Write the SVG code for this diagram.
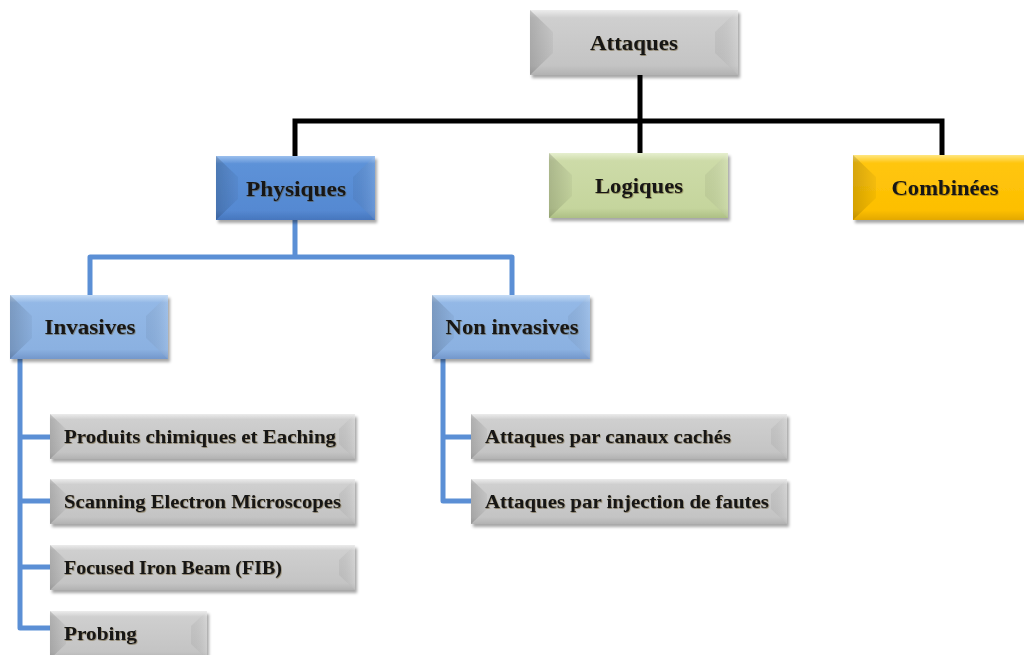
<svg xmlns="http://www.w3.org/2000/svg" width="1024" height="655" viewBox="0 0 1024 655">
  <defs>
    <filter id="shadow" x="-10%" y="-20%" width="130%" height="150%">
      <feDropShadow dx="2" dy="3" stdDeviation="1.6" flood-color="#000" flood-opacity="0.35"/>
    </filter>
    <filter id="glow" x="-5%" y="-20%" width="110%" height="150%">
      <feDropShadow dx="0.6" dy="0.8" stdDeviation="0.6" flood-color="#5a4a20" flood-opacity="0.6"/>
    </filter>
    <!-- bevel side shading -->
    <linearGradient id="shadeL" x1="0" y1="0" x2="1" y2="0">
      <stop offset="0" stop-color="#000" stop-opacity="0.16"/>
      <stop offset="1" stop-color="#000" stop-opacity="0.04"/>
    </linearGradient>
    <linearGradient id="shadeR" x1="0" y1="0" x2="1" y2="0">
      <stop offset="0" stop-color="#000" stop-opacity="0.05"/>
      <stop offset="1" stop-color="#fff" stop-opacity="0.12"/>
    </linearGradient>
    <!-- face gradients -->
    <linearGradient id="gGray" x1="0" y1="0" x2="0" y2="1">
      <stop offset="0" stop-color="#ececec"/>
      <stop offset="0.12" stop-color="#cfcfcf"/>
      <stop offset="0.85" stop-color="#c4c4c4"/>
      <stop offset="1" stop-color="#b2b2b2"/>
    </linearGradient>
    <linearGradient id="gBlue" x1="0" y1="0" x2="0" y2="1">
      <stop offset="0" stop-color="#9cc0ee"/>
      <stop offset="0.12" stop-color="#5d92d8"/>
      <stop offset="0.85" stop-color="#5589d2"/>
      <stop offset="1" stop-color="#4776bd"/>
    </linearGradient>
    <linearGradient id="gLBlue" x1="0" y1="0" x2="0" y2="1">
      <stop offset="0" stop-color="#c6dcf5"/>
      <stop offset="0.12" stop-color="#93b8e6"/>
      <stop offset="0.85" stop-color="#8bb1e1"/>
      <stop offset="1" stop-color="#7397cb"/>
    </linearGradient>
    <linearGradient id="gGreen" x1="0" y1="0" x2="0" y2="1">
      <stop offset="0" stop-color="#e6efcf"/>
      <stop offset="0.12" stop-color="#cddba8"/>
      <stop offset="0.85" stop-color="#c5d59d"/>
      <stop offset="1" stop-color="#adbf85"/>
    </linearGradient>
    <linearGradient id="gGold" x1="0" y1="0" x2="0" y2="1">
      <stop offset="0" stop-color="#ffe680"/>
      <stop offset="0.12" stop-color="#ffc60f"/>
      <stop offset="0.85" stop-color="#fdbf00"/>
      <stop offset="1" stop-color="#e3a800"/>
    </linearGradient>
  </defs>
  <style>
    .lbl { font-family: "Liberation Serif", "DejaVu Serif", serif; font-weight: bold; fill: #141414; filter: url(#glow); }
    .hd { font-size: 21px; text-anchor: middle; }
    .lf { font-size: 19.5px; }
    .sideL { fill: url(#shadeL); }
    .sideR { fill: url(#shadeR); }
    .black { fill: none; stroke: #000; stroke-width: 5; }
    .blue { fill: none; stroke: #5b8fd5; stroke-width: 5; stroke-linejoin: round; }
  </style>

  <rect width="1024" height="655" fill="#fff"/>

  <!-- connectors -->
  <g id="connectors">
    <path class="black" d="M640 75 V121 M295 157 V121 H942 V156 M640 121 V153"/>
    <path class="blue" d="M295 220 V257 M90 296 V257 H512 V296"/>
    <path class="blue" d="M20 359 V628 H51 M20 437 H51 M20 501 H51 M20 567 H51"/>
    <path class="blue" d="M443 359 V501 H472 M443 437 H472"/>
  </g>

  <!-- Attaques -->
  <g id="n-attaques" filter="url(#shadow)">
    <rect x="530" y="10" width="208" height="65" fill="url(#gGray)"/>
    <polygon class="sideL" points="530,10 553,32 553,53 530,75"/>
    <polygon class="sideR" points="738,10 715,32 715,53 738,75"/>
    <text class="lbl hd" x="634" y="50" textLength="88" lengthAdjust="spacingAndGlyphs">Attaques</text>
  </g>

  <!-- Physiques -->
  <g id="n-physiques" filter="url(#shadow)">
    <rect x="216" y="156" width="159" height="64" fill="url(#gBlue)"/>
    <polygon class="sideL" points="216,156 238,177 238,199 216,220"/>
    <polygon class="sideR" points="375,156 353,177 353,199 375,220"/>
    <text class="lbl hd" x="296" y="196" textLength="100" lengthAdjust="spacingAndGlyphs">Physiques</text>
  </g>

  <!-- Logiques -->
  <g id="n-logiques" filter="url(#shadow)">
    <rect x="549" y="153" width="179" height="65" fill="url(#gGreen)"/>
    <polygon class="sideL" points="549,153 572,175 572,196 549,218"/>
    <polygon class="sideR" points="728,153 705,175 705,196 728,218"/>
    <text class="lbl hd" x="639" y="193" textLength="88" lengthAdjust="spacingAndGlyphs">Logiques</text>
  </g>

  <!-- Combinées -->
  <g id="n-combinees" filter="url(#shadow)">
    <rect x="853" y="155" width="180" height="65" fill="url(#gGold)"/>
    <polygon class="sideL" points="853,155 876,177 876,198 853,220"/>
    <text class="lbl hd" x="945" y="195" textLength="107" lengthAdjust="spacingAndGlyphs">Combinées</text>
  </g>

  <!-- Invasives -->
  <g id="n-invasives" filter="url(#shadow)">
    <rect x="10" y="295" width="158" height="64" fill="url(#gLBlue)"/>
    <polygon class="sideL" points="10,295 32,316 32,338 10,359"/>
    <polygon class="sideR" points="168,295 146,316 146,338 168,359"/>
    <text class="lbl hd" x="90" y="334" textLength="91" lengthAdjust="spacingAndGlyphs">Invasives</text>
  </g>

  <!-- Non invasives -->
  <g id="n-noninvasives" filter="url(#shadow)">
    <rect x="432" y="295" width="158" height="64" fill="url(#gLBlue)"/>
    <polygon class="sideL" points="432,295 454,316 454,338 432,359"/>
    <polygon class="sideR" points="590,295 568,316 568,338 590,359"/>
    <text class="lbl hd" x="512" y="334" textLength="133" lengthAdjust="spacingAndGlyphs">Non invasives</text>
  </g>

  <!-- leaves: Invasives -->
  <g id="n-produits" filter="url(#shadow)">
    <rect x="50" y="414" width="305" height="45" fill="url(#gGray)"/>
    <polygon class="sideL" points="50,414 66,429 66,444 50,459"/>
    <polygon class="sideR" points="355,414 339,429 339,444 355,459"/>
    <text class="lbl lf" x="64" y="443" textLength="272" lengthAdjust="spacingAndGlyphs">Produits chimiques et Eaching</text>
  </g>
  <g id="n-scanning" filter="url(#shadow)">
    <rect x="50" y="479" width="305" height="45" fill="url(#gGray)"/>
    <polygon class="sideL" points="50,479 66,494 66,509 50,524"/>
    <polygon class="sideR" points="355,479 339,494 339,509 355,524"/>
    <text class="lbl lf" x="64" y="508" textLength="277" lengthAdjust="spacingAndGlyphs">Scanning Electron Microscopes</text>
  </g>
  <g id="n-focused" filter="url(#shadow)">
    <rect x="50" y="545" width="305" height="45" fill="url(#gGray)"/>
    <polygon class="sideL" points="50,545 66,560 66,575 50,590"/>
    <polygon class="sideR" points="355,545 339,560 339,575 355,590"/>
    <text class="lbl lf" x="64" y="574" textLength="218" lengthAdjust="spacingAndGlyphs">Focused Iron Beam (FIB)</text>
  </g>
  <g id="n-probing" filter="url(#shadow)">
    <rect x="50" y="611" width="157" height="48" fill="url(#gGray)"/>
    <polygon class="sideL" points="50,611 66,626 66,644 50,659"/>
    <polygon class="sideR" points="207,611 191,626 191,644 207,659"/>
    <text class="lbl lf" x="64" y="640" textLength="73" lengthAdjust="spacingAndGlyphs">Probing</text>
  </g>

  <!-- leaves: Non invasives -->
  <g id="n-canaux" filter="url(#shadow)">
    <rect x="471" y="414" width="316" height="45" fill="url(#gGray)"/>
    <polygon class="sideL" points="471,414 487,429 487,444 471,459"/>
    <polygon class="sideR" points="787,414 771,429 771,444 787,459"/>
    <text class="lbl lf" x="485" y="443" textLength="246" lengthAdjust="spacingAndGlyphs">Attaques par canaux cachés</text>
  </g>
  <g id="n-injection" filter="url(#shadow)">
    <rect x="471" y="479" width="316" height="45" fill="url(#gGray)"/>
    <polygon class="sideL" points="471,479 487,494 487,509 471,524"/>
    <polygon class="sideR" points="787,479 771,494 771,509 787,524"/>
    <text class="lbl lf" x="485" y="508" textLength="284" lengthAdjust="spacingAndGlyphs">Attaques par injection de fautes</text>
  </g>
</svg>
